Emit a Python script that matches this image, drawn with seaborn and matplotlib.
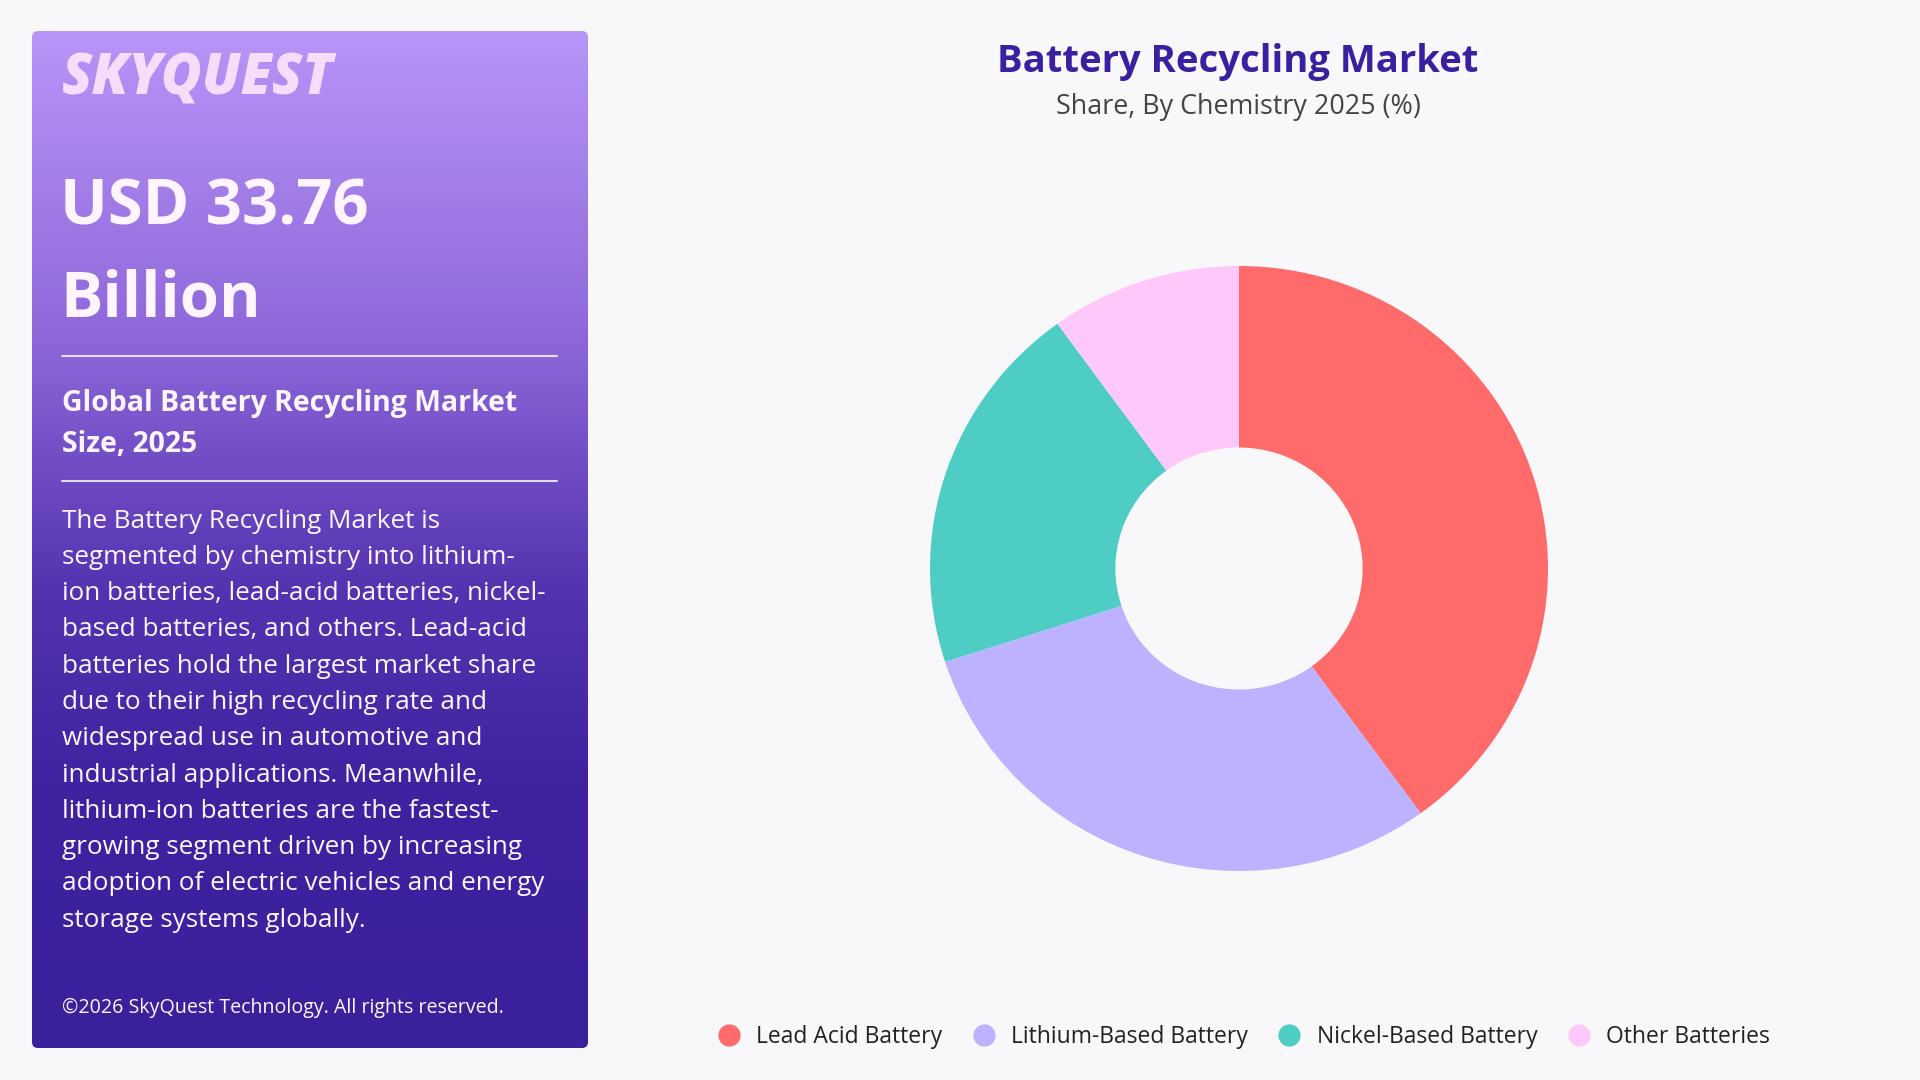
import numpy as np
import seaborn as sns
import matplotlib.pyplot as plt
from matplotlib.patches import FancyBboxPatch
from matplotlib.colors import LinearSegmentedColormap
from matplotlib.lines import Line2D

# Chart data
segments = ["Lead Acid Battery", "Lithium-Based Battery", "Nickel-Based Battery", "Other Batteries"]
shares = [40, 30, 20, 10]
colors = ["#FF6B6B", "#BDB2FF", "#4ECDC4", "#FFC8FB"]

title = "Battery Recycling Market"
subtitle = "Share, By Chemistry 2025 (%)"
headline = ["USD 33.76", "Billion"]
panel_title = ["Global Battery Recycling Market", "Size, 2025"]
blurb = [
    "The Battery Recycling Market is",
    "segmented by chemistry into lithium-",
    "ion batteries, lead-acid batteries, nickel-",
    "based batteries, and others. Lead-acid",
    "batteries hold the largest market share",
    "due to their high recycling rate and",
    "widespread use in automotive and",
    "industrial applications. Meanwhile,",
    "lithium-ion batteries are the fastest-",
    "growing segment driven by increasing",
    "adoption of electric vehicles and energy",
    "storage systems globally.",
]
copyright_txt = "\u00a92026 SkyQuest Technology. All rights reserved."

sns.set_theme(style="white")
plt.rcParams['font.family'] = ['Open Sans', 'DejaVu Sans']

bg = "#F8F8FA"
fig = plt.figure(figsize=(19.2, 10.8), dpi=100, facecolor=bg)

# background / left panel, drawn in pixel coordinates
ax_bg = fig.add_axes([0, 0, 1, 1])
ax_bg.set_xlim(0, 1920)
ax_bg.set_ylim(1080, 0)
ax_bg.axis("off")

px0, py0, px1, py1 = 32, 31, 588, 1048
panel = FancyBboxPatch((px0, py0), px1 - px0, py1 - py0,
                       boxstyle="round,pad=0,rounding_size=6",
                       facecolor="none", edgecolor="none")
ax_bg.add_patch(panel)
grad_cmap = LinearSegmentedColormap.from_list(
    "panel", [(0, "#B895F8"), (0.3, "#8E68DA"), (0.55, "#5433B0"), (0.75, "#3E22A0"), (1, "#3B209C")])
grad = np.linspace(0, 1, 256).reshape(-1, 1)
im = ax_bg.imshow(grad, cmap=grad_cmap, aspect="auto",
                  extent=(px0, px1, py1, py0), zorder=1)
im.set_clip_path(panel)

white = "#FFF4FF"
ax_bg.text(62, 80, "SKYQUEST", fontsize=40, fontweight="heavy", fontstyle="italic",
           color="#F6DDFB", va="center", ha="left", zorder=3)
ax_bg.text(60, 208, headline[0], fontsize=45.5, fontweight="bold", color=white,
           va="center", ha="left", zorder=3)
ax_bg.text(60, 300, headline[1], fontsize=45.5, fontweight="bold", color=white,
           va="center", ha="left", zorder=3)
ax_bg.plot([62, 557], [356, 356], color="#E6DAFF", lw=1.5, zorder=3)
ax_bg.text(62, 403, panel_title[0], fontsize=20.4, fontweight="bold", color=white,
           va="center", ha="left", zorder=3)
ax_bg.text(62, 444, panel_title[1], fontsize=20.4, fontweight="bold", color=white,
           va="center", ha="left", zorder=3)
ax_bg.plot([62, 557], [481, 481], color="#E6DAFF", lw=1.5, zorder=3)
for i, line in enumerate(blurb):
    ax_bg.text(62, 521 + i * 36.3, line, fontsize=18.8, color=white,
               va="center", ha="left", zorder=3)
ax_bg.text(62, 1008, copyright_txt, fontsize=14.1, color=white,
           va="center", ha="left", zorder=3)

# titles
ax_bg.text(1238, 62, title, fontsize=27.5, fontweight="bold", color="#3A1FA0",
           ha="center", va="center")
ax_bg.text(1238, 107, subtitle, fontsize=19.4, color="#444444",
           ha="center", va="center")

# donut (reference is very slightly wider than tall)
left, top, right, bottom = 930, 266, 1548, 871
ax = fig.add_axes([left / 1920, (1080 - bottom) / 1080, (right - left) / 1920, (bottom - top) / 1080])
ax.pie(shares, colors=colors, startangle=90, counterclock=False, radius=1,
       wedgeprops=dict(width=0.6, edgecolor="none"))
ax.set_xlim(-1, 1)
ax.set_ylim(-1, 1)
ax.set_aspect("auto")
ax.axis("off")

handles = [Line2D([0], [0], marker="o", linestyle="", markersize=16,
                  markerfacecolor=c, markeredgecolor="none") for c in colors]
fig.legend(handles, segments, loc="center", bbox_to_anchor=(1238 / 1920, 1 - 1037 / 1080),
           ncol=4, frameon=False, fontsize=16.5, handletextpad=0.2, columnspacing=0.8,
           labelcolor="#222222")

fig.savefig("out.png", dpi=100, facecolor=bg)
